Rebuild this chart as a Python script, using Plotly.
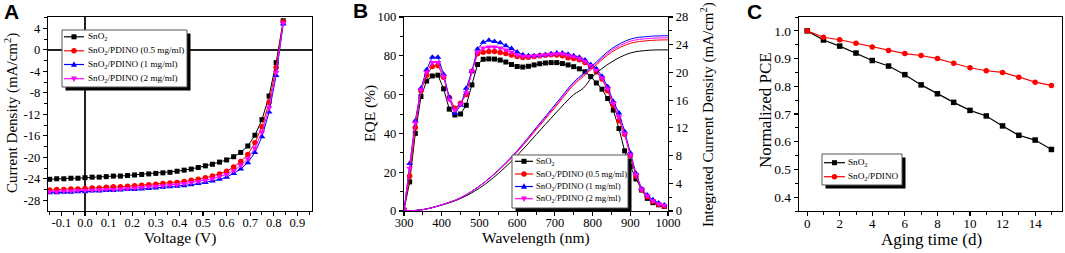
import plotly.graph_objects as go

# ---------------- Panel A: J-V ----------------
voltage = [-0.15, -0.12, -0.09, -0.06, -0.03, 0.00, 0.03, 0.06, 0.09, 0.12, 0.15, 0.18,
           0.21, 0.24, 0.27, 0.30, 0.33, 0.36, 0.39, 0.42, 0.45, 0.48, 0.51, 0.54, 0.57,
           0.60, 0.63, 0.66, 0.69, 0.72, 0.75, 0.78, 0.81, 0.84]
j_sno2 = [-24.1, -24.0, -24.0, -23.9, -23.9, -23.8, -23.7, -23.7, -23.6, -23.5, -23.5, -23.4,
          -23.3, -23.2, -23.1, -23.0, -22.9, -22.8, -22.6, -22.4, -22.2, -21.9, -21.6, -21.3,
          -20.9, -20.5, -19.9, -19.1, -17.9, -15.9, -13.0, -8.6, -2.4, 5.4]
j_p05 = [-26.1, -26.0, -26.0, -25.9, -25.9, -25.8, -25.7, -25.7, -25.6, -25.5, -25.5, -25.4,
         -25.3, -25.2, -25.1, -25.0, -24.9, -24.8, -24.7, -24.5, -24.3, -24.1, -23.8, -23.5,
         -23.1, -22.6, -21.8, -20.8, -19.5, -17.3, -14.3, -9.8, -3.3, 5.2]
j_p1 = [-26.6, -26.6, -26.5, -26.5, -26.4, -26.4, -26.3, -26.3, -26.2, -26.2, -26.1, -26.0,
        -26.0, -25.9, -25.8, -25.7, -25.6, -25.5, -25.4, -25.3, -25.1, -24.9, -24.7, -24.4,
        -24.1, -23.7, -23.0, -22.2, -21.0, -19.1, -16.2, -11.6, -4.8, 4.8]
j_p2 = [-26.4, -26.4, -26.3, -26.3, -26.2, -26.2, -26.1, -26.1, -26.0, -26.0, -25.9, -25.8,
        -25.7, -25.6, -25.5, -25.4, -25.3, -25.2, -25.1, -24.9, -24.7, -24.5, -24.3, -24.0,
        -23.6, -23.2, -22.5, -21.5, -20.3, -18.3, -15.3, -10.8, -4.2, 5.0]

# ---------------- Panel B: EQE ----------------
wavelength = [300, 315, 330, 345, 360, 375, 390, 405, 420, 435, 450, 465, 480, 495, 510, 525,
              540, 555, 570, 585, 600, 615, 630, 645, 660, 675, 690, 705, 720, 735, 750, 765,
              780, 795, 810, 825, 840, 855, 870, 885, 900, 915, 930, 945, 960, 975, 990]
eqe_sno2 = [0.5, 15, 40, 59, 67, 69.6, 70, 63, 52.5, 49.5, 50, 54.5, 65, 75.5, 78.2, 78.4,
            78.3, 77.8, 76.8, 75.5, 74.5, 74.2, 74.6, 75.3, 75.9, 76.3, 76.5, 76.5, 76, 75.3, 74.4, 73.3,
            71.8, 69.3, 66, 62.8, 58, 52, 42.5, 31, 23, 16.5, 10.8, 6.5, 4.3, 3.2, 2.3]
eqe_p05 = [0.5, 18, 43, 62, 70, 74.5, 75, 69, 58.5, 53, 55.5, 60, 72, 81, 81.8, 82.2,
           82.2, 81.7, 81.2, 80.4, 79.6, 79.1, 79.3, 79.7, 80, 80.3, 80.5, 80.4, 80, 79, 78.6, 78,
           76.5, 74.5, 71.8, 68, 62, 54.5, 46.5, 39.5, 28.5, 18, 11, 7.4, 4.9, 3.4, 2.5]
eqe_p1 = [0.5, 24.5, 46.5, 63.3, 72.8, 79.3, 79.3, 70.5, 58.5, 50.3, 54.5, 63.3, 72, 83.5, 87, 88,
          87.4, 86.7, 85.2, 83.8, 82, 80.5, 80, 80, 80.3, 80.6, 81, 81.4, 81.4, 80.8, 80, 79.2,
          77.8, 75.5, 73.3, 69.5, 64, 56.5, 50.5, 41, 30, 19.5, 11.5, 8.2, 5.8, 4.1, 3.1]
eqe_p2 = [0.5, 22, 45.5, 62.5, 71.5, 76.5, 76.5, 69.5, 57.5, 52, 55, 61, 72, 82, 84, 84.5,
          84.5, 84, 83, 82, 80.5, 79.8, 79.8, 80, 80.2, 80.5, 80.8, 81, 81, 80.3, 79.5, 78.7,
          77.2, 75, 72.5, 68.5, 63, 55.5, 48.5, 40, 29, 18.8, 11.2, 7.8, 5.3, 3.7, 2.8]

wl_int = [300, 350, 400, 450, 500, 550, 600, 650, 700, 750, 775, 800, 850, 900, 950, 1000]
jint_sno2 = [0, 0.2, 0.85, 1.8, 3.3, 5.4, 8.0, 11.0, 14.0, 16.8, 17.7, 19.4, 21.5, 22.8, 23.2, 23.25]
jint_p05 = [0, 0.2, 0.9, 1.9, 3.6, 5.8, 8.5, 11.7, 14.9, 18.2, 19.4, 20.6, 22.9, 24.2, 24.6, 24.7]
jint_p1 = [0, 0.2, 0.9, 1.9, 3.6, 5.9, 8.7, 12.0, 15.3, 18.6, 19.8, 21.0, 23.4, 24.8, 25.2, 25.3]
jint_p2 = [0, 0.2, 0.9, 1.9, 3.6, 5.85, 8.6, 11.85, 15.1, 18.4, 19.6, 20.8, 23.15, 24.5, 24.9, 25.0]

# ---------------- Panel C: stability ----------------
days = [0, 1, 2, 3, 4, 5, 6, 7, 8, 9, 10, 11, 12, 13, 14, 15]
pce_sno2 = [1.0, 0.967, 0.945, 0.920, 0.893, 0.873, 0.842, 0.805, 0.773, 0.742, 0.713, 0.693,
            0.657, 0.623, 0.606, 0.572]
pce_pdino = [1.0, 0.977, 0.968, 0.955, 0.942, 0.929, 0.918, 0.911, 0.900, 0.883, 0.867, 0.856,
             0.850, 0.833, 0.815, 0.803]

names4 = ["SnO<sub>2</sub>", "SnO<sub>2</sub>/PDINO (0.5 mg/ml)",
          "SnO<sub>2</sub>/PDINO (1 mg/ml)", "SnO<sub>2</sub>/PDINO (2 mg/ml)"]
names2 = ["SnO<sub>2</sub>", "SnO<sub>2</sub>/PDINO"]
colors4 = ["#000000", "#ff0000", "#0000ff", "#ff00ff"]
symbols4 = ["square", "circle", "triangle-up", "triangle-down"]
sizes4 = [5, 5.5, 6, 6]

W, H = 1065, 253
SERIF = "Liberation Serif, Times New Roman, serif"
SANS = "Liberation Sans, Arial, sans-serif"


def px_x(p):
    return p / W


def px_y(p):
    return 1 - p / H


fig = go.Figure()

# Panel A traces
for j, nm, c, s, sz in zip([j_sno2, j_p05, j_p1, j_p2], names4, colors4, symbols4, sizes4):
    fig.add_trace(go.Scatter(x=voltage, y=j, name=nm, mode="lines+markers",
                             line=dict(color=c, width=1),
                             marker=dict(symbol=s, size=sz, color=c),
                             xaxis="x", yaxis="y", showlegend=False))

# Panel B EQE traces
for e, nm, c, s, sz in zip([eqe_sno2, eqe_p05, eqe_p1, eqe_p2], names4, colors4, symbols4, sizes4):
    fig.add_trace(go.Scatter(x=wavelength, y=e, name=nm, mode="lines+markers",
                             line=dict(color=c, width=1),
                             marker=dict(symbol=s, size=sz, color=c),
                             xaxis="x2", yaxis="y2", showlegend=False))
# Panel B integrated current
for jj, c in zip([jint_sno2, jint_p05, jint_p1, jint_p2], colors4):
    fig.add_trace(go.Scatter(x=wl_int, y=jj, mode="lines",
                             line=dict(color=c, width=1, shape="spline"),
                             showlegend=False, xaxis="x2", yaxis="y3"))

# Panel C traces
for p, nm, c, s in zip([pce_sno2, pce_pdino], names2, ["#000000", "#ff0000"], ["square", "circle"]):
    fig.add_trace(go.Scatter(x=days, y=p, name=nm, mode="lines+markers",
                             line=dict(color=c, width=1.2),
                             marker=dict(symbol=s, size=5.5, color=c),
                             xaxis="x3", yaxis="y4", showlegend=False))

tickfont = dict(family=SERIF, size=12.5, color="black")
base = dict(showline=True, linecolor="black", linewidth=1.3, ticks="outside", ticklen=4,
            tickwidth=1.2, tickcolor="black", tickfont=tickfont, showgrid=False,
            zeroline=False, fixedrange=True, automargin=False)
minor = dict(ticks="outside", ticklen=2.5, tickwidth=1, tickcolor="black", showgrid=False)
xshift_labels = dict(ticklabelstandoff=-4)

ydom = [px_y(211), px_y(17)]

# A axes
ax_vals = [-0.1, 0.0, 0.1, 0.2, 0.3, 0.4, 0.5, 0.6, 0.7, 0.8, 0.9]
ay_vals = [-28, -24, -20, -16, -12, -8, -4, 0, 4]
fig.update_layout(
    xaxis=dict(base, **xshift_labels, domain=[px_x(48), px_x(312)], range=[-0.157, 0.962],
               anchor="y", mirror=True, tickvals=ax_vals, ticktext=[f"{v:.1f}" for v in ax_vals],
               minor=dict(minor, tickvals=[round(v + 0.05, 2) for v in [-0.2] + ax_vals]),
               zeroline=True, zerolinecolor="#222", zerolinewidth=1.6),
    yaxis=dict(base, domain=ydom, range=[-30, 6.1], anchor="x", mirror=True,
               tickvals=ay_vals, ticktext=[str(v) for v in ay_vals],
               minor=dict(minor, tickvals=[v + 2 for v in [-30] + ay_vals]),
               zeroline=True, zerolinecolor="#222", zerolinewidth=1.6),
)

# B axes
fig.update_layout(
    xaxis2=dict(base, **xshift_labels, domain=[px_x(404), px_x(668)], range=[300, 1000],
                anchor="y2", mirror=True, dtick=100, minor=dict(minor, dtick=50)),
    yaxis2=dict(base, domain=ydom, range=[0, 100], anchor="x2", dtick=20,
                minor=dict(minor, dtick=10)),
    yaxis3=dict(base, range=[0, 28], anchor="x2", overlaying="y2", side="right", dtick=4,
                minor=dict(minor, dtick=2)),
)

# C axes
cy_vals = [0.4, 0.5, 0.6, 0.7, 0.8, 0.9, 1.0]
fig.update_layout(
    xaxis3=dict(base, **xshift_labels, domain=[px_x(799), px_x(1062)], range=[-0.5, 15.65],
                anchor="y4", mirror=True, dtick=2, minor=dict(minor, dtick=1),
                tickfont=dict(tickfont, size=13)),
    yaxis4=dict(base, domain=ydom, range=[0.35, 1.05], anchor="x3", mirror=True,
                tickvals=cy_vals, ticktext=[f"{v:.1f}" for v in cy_vals],
                minor=dict(minor, tickvals=[round(v + 0.05, 2) for v in [0.3] + cy_vals]),
                tickfont=dict(tickfont, size=13.5)),
)


def text_ann(text, xp, yp, size, angle=0, family=SERIF, xanchor="center"):
    fig.add_annotation(text=text, x=px_x(xp), y=px_y(yp), xref="paper", yref="paper",
                       xanchor=xanchor, yanchor="middle", showarrow=False, textangle=angle,
                       font=dict(family=family, size=size, color="black"))


# axis titles
text_ann("Voltage (V)", 180, 238, 15.5)
text_ann("Current Density (mA/cm<sup>2</sup>)", 11, 113, 15, angle=-90)
text_ann("Wavelength (nm)", 536, 238, 15.5)
text_ann("EQE (%)", 370, 114, 15.5, angle=-90)
text_ann("Integrated Current Density (mA/cm<sup>2</sup>)", 707, 115, 15, angle=-90)
text_ann("Aging time (d)", 931, 239.5, 17)
text_ann("Normalized PCE", 766, 110, 17, angle=-90)

# panel letters
for lab, xp, yp in [("A", 11.5, 12), ("B", 360.5, 11), ("C", 754, 11.5)]:
    text_ann(f"<b>{lab}</b>", xp, yp, 21, family=SANS)


# ---- Origin-style legends (box with drop shadow) ----
def marker_shape(sym, cx, cy, c, r=2.7):
    if sym == "square":
        fig.add_shape(type="rect", xref="paper", yref="paper",
                      x0=px_x(cx - r + 0.2), x1=px_x(cx + r - 0.2),
                      y0=px_y(cy + r - 0.2), y1=px_y(cy - r + 0.2),
                      fillcolor=c, line=dict(width=0), layer="above")
    elif sym == "circle":
        fig.add_shape(type="circle", xref="paper", yref="paper",
                      x0=px_x(cx - r), x1=px_x(cx + r), y0=px_y(cy + r), y1=px_y(cy - r),
                      fillcolor=c, line=dict(width=0), layer="above")
    else:
        s = 1 if sym == "triangle-up" else -1
        pts = [(cx, cy - s * (r + 0.5)), (cx - r - 0.3, cy + s * (r - 0.5)),
               (cx + r + 0.3, cy + s * (r - 0.5))]
        path = "M " + " L ".join(f"{px_x(a):.5f},{px_y(b):.5f}" for a, b in pts) + " Z"
        fig.add_shape(type="path", xref="paper", yref="paper", path=path,
                      fillcolor=c, line=dict(width=0), layer="above")


def legend_box(x0, y0, x1, y1, rows, names, colors, symbols, line_x, text_x, size, shadow=3.5):
    fig.add_shape(type="rect", xref="paper", yref="paper",
                  x0=px_x(x0 + shadow), x1=px_x(x1 + shadow), y0=px_y(y1 + shadow), y1=px_y(y0 + shadow),
                  fillcolor="black", line=dict(width=0), layer="above")
    fig.add_shape(type="rect", xref="paper", yref="paper",
                  x0=px_x(x0), x1=px_x(x1), y0=px_y(y1), y1=px_y(y0),
                  fillcolor="white", line=dict(color="#555", width=1), layer="above")
    for ry, nm, c, s in zip(rows, names, colors, symbols):
        fig.add_shape(type="line", xref="paper", yref="paper",
                      x0=px_x(line_x[0]), x1=px_x(line_x[1]), y0=px_y(ry), y1=px_y(ry),
                      line=dict(color=c, width=1.2), layer="above")
        marker_shape(s, (line_x[0] + line_x[1]) / 2, ry, c)
        text_ann(nm, text_x, ry, size, xanchor="left")


legend_box(62, 30, 187, 87, [36.8, 50.8, 64.5, 78.7], names4, colors4, symbols4,
           (64, 84), 85.5, 9.2)
legend_box(512, 155, 628, 208, [161.3, 174, 186.5, 198.7], names4, colors4, symbols4,
           (515, 533), 533.5, 8.7)
legend_box(822, 154, 902, 185, [162.7, 176.7], names2, ["#000000", "#ff0000"],
           ["square", "circle"], (824, 845), 845.5, 9.2)

fig.update_layout(width=W, height=H, margin=dict(l=0, r=0, t=0, b=0),
                  plot_bgcolor="white", paper_bgcolor="white", showlegend=False)

# remove the browser's default 8px page margin so the figure fills the window exactly
fig.write_html("out.html", config={"displayModeBar": False, "staticPlot": True},
               post_script="document.body.style.margin='0';document.body.style.overflow='hidden';")
